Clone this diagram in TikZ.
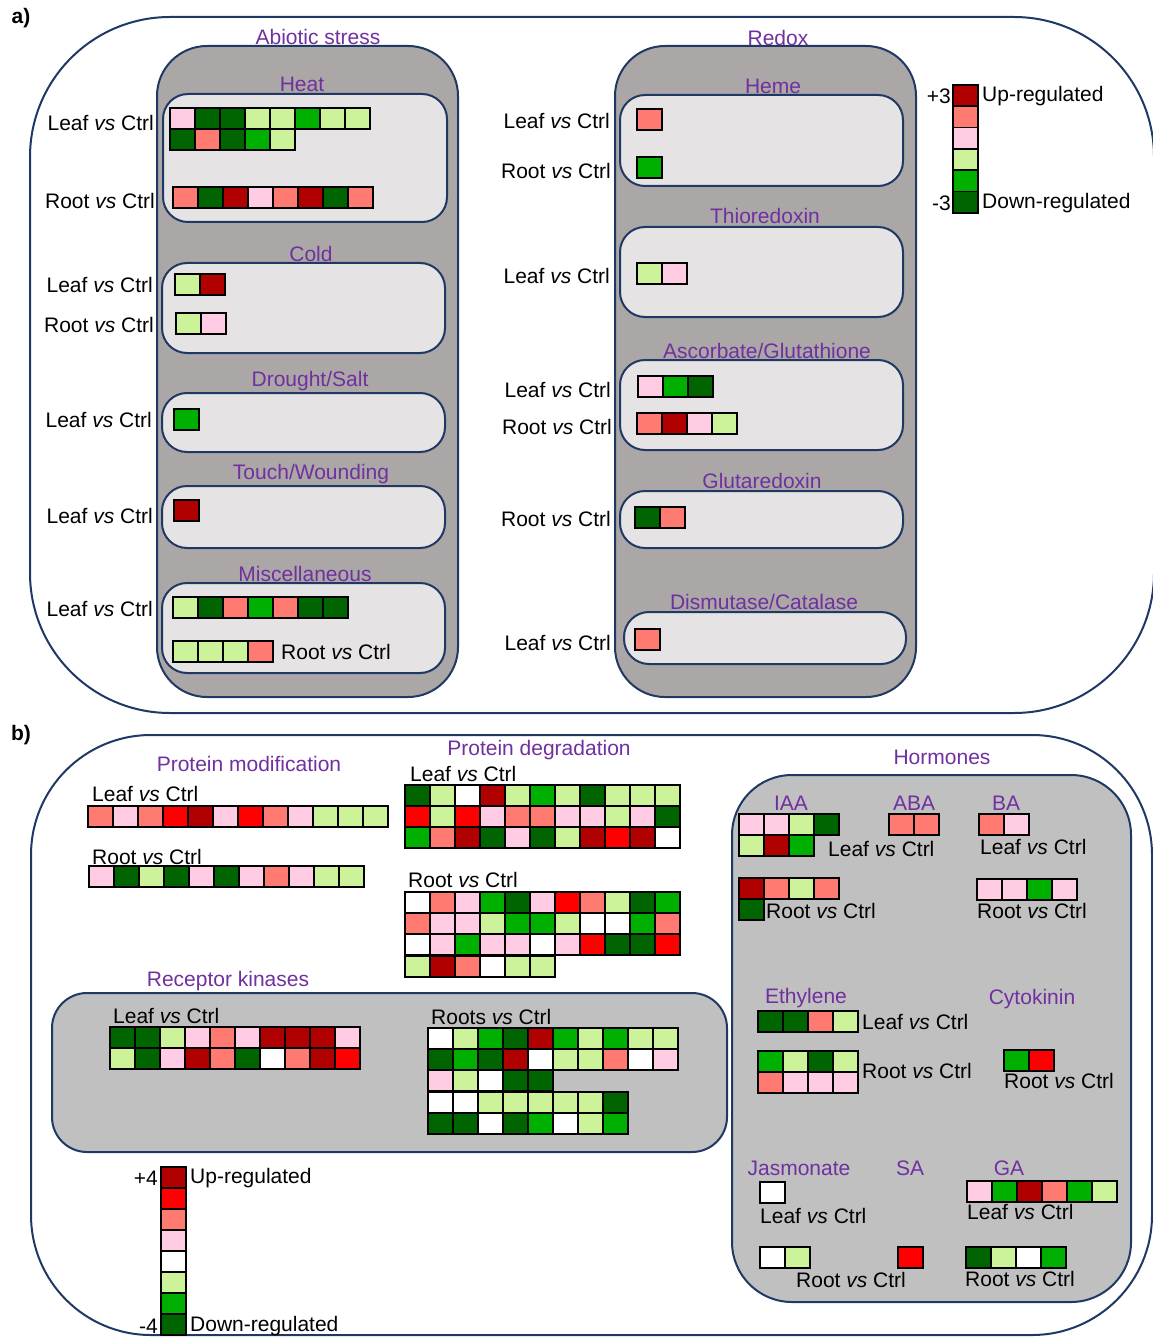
\documentclass[tikz,border=0pt]{standalone}
\usepackage{fontspec}
\setmainfont{Liberation Sans}
\usepackage{tikz}
\definecolor{dr}{HTML}{B00000}
\definecolor{rd}{HTML}{FF0000}
\definecolor{sa}{HTML}{FF7B72}
\definecolor{pk}{HTML}{FFCCE4}
\definecolor{wh}{HTML}{FFFFFF}
\definecolor{lg}{HTML}{CCF29A}
\definecolor{gr}{HTML}{00B000}
\definecolor{dg}{HTML}{006400}
\definecolor{navy}{HTML}{1F3864}
\definecolor{ttlpurple}{HTML}{7030A0}
\definecolor{grayA}{HTML}{ABA7A7}
\definecolor{grayB}{HTML}{C0C0C0}
\definecolor{paneA}{HTML}{E6E3E4}
\newcommand{\cellrow}[3]{\foreach \cl [count=\i from 0] in {#3} {\filldraw[fill=\cl, draw=black, line width=1.8pt] ({#1+\i*25}, #2) rectangle +(25,21);}}
\newcommand{\lvc}{Leaf \textit{vs} Ctrl}
\newcommand{\rvc}{Root \textit{vs} Ctrl}

\begin{document}
\begin{tikzpicture}[x=1pt, y=-1pt,
    every node/.style={inner sep=0pt, font=\fontsize{21}{25}\selectfont},
    frame/.style={draw=navy, line width=2pt},
    grpA/.style={draw=navy, line width=2pt, fill=grayA, rounded corners=50pt},
    grpB/.style={draw=navy, line width=2pt, fill=grayB},
    pane/.style={draw=navy, line width=2pt, fill=paneA, rounded corners=25pt},
    ttl/.style={text=ttlpurple},
    lbl/.style={text=black}]
    \useasboundingbox (0,0) rectangle (1152,1337);
    % ---------------- a) ----------------
    \draw[frame, rounded corners=140pt] (30,17) rectangle (1154,713);
    \node[font=\fontsize{21}{25}\selectfont\bfseries] (pa) at (21,18) {a)};
    % abiotic stress column
    \draw[grpA] (157,46) rectangle (458,697);
    \draw[pane] (163,94) rectangle (447,222);
    \draw[pane] (162,263) rectangle (445,353);
    \draw[pane] (162,393) rectangle (445,452);
    \draw[pane] (162,486) rectangle (445,548);
    \draw[pane] (162,583) rectangle (445,673);
    \node[ttl] (abiotic) at (318,37) {Abiotic stress};
    \node[ttl] (heat) at (302,84) {Heat};
    \node[ttl] (cold) at (311,254) {Cold};
    \node[ttl] (drought) at (310,381) {Drought/Salt};
    \node[ttl] (touch) at (311,474) {Touch/Wounding};
    \node[ttl] (misc) at (305,574) {Miscellaneous};
    \node[lbl, anchor=east] (heatleaf) at (154,123) {\lvc};
    \node[lbl, anchor=east] (heatroot) at (155,201) {\rvc};
    \node[lbl, anchor=east] (coldleaf) at (153,285) {\lvc};
    \node[lbl, anchor=east] (coldroot) at (154,325) {\rvc};
    \node[lbl, anchor=east] (droughtleaf) at (152,420) {\lvc};
    \node[lbl, anchor=east] (touchleaf) at (153,516) {\lvc};
    \node[lbl, anchor=east] (miscleaf) at (153,609) {\lvc};
    \node[lbl, anchor=west] (miscroot) at (281,652) {\rvc};
    % heat
    \cellrow{170}{108}{pk,dg,dg,lg,lg,gr,lg,lg}
    \cellrow{170}{129}{dg,sa,dg,gr,lg}
    \cellrow{173}{187}{sa,dg,dr,pk,sa,dr,dg,sa}
    % cold, drought, touch
    \cellrow{175}{274}{lg,dr}
    \cellrow{176}{313}{lg,pk}
    \cellrow{174}{409}{gr}
    \cellrow{174}{500}{dr}
    % miscellaneous
    \cellrow{173}{597}{lg,dg,sa,gr,sa,dg,dg}
    \cellrow{173}{641}{lg,lg,lg,sa}
    % redox column
    \draw[grpA] (615,46) rectangle (916,697);
    \draw[pane] (620,95) rectangle (903,186);
    \draw[pane] (620,227) rectangle (903,317);
    \draw[pane] (620,360) rectangle (903,450);
    \draw[pane] (620,491) rectangle (903,548);
    \draw[pane] (624,612) rectangle (906,664);
    \node[ttl] (redox) at (778,38) {Redox};
    \node[ttl] (heme) at (773,86) {Heme};
    \node[ttl] (thio) at (765,216) {Thioredoxin};
    \node[ttl] (ascorb) at (767,351) {Ascorbate/Glutathione};
    \node[ttl] (glutar) at (762,481) {Glutaredoxin};
    \node[ttl] (dismut) at (764,602) {Dismutase/Catalase};
    \node[lbl, anchor=east] (hemeleaf) at (610,121) {\lvc};
    \node[lbl, anchor=east] (hemeroot) at (611,171) {\rvc};
    \node[lbl, anchor=east] (thioleaf) at (610,276) {\lvc};
    \node[lbl, anchor=east] (ascleaf) at (611,390) {\lvc};
    \node[lbl, anchor=east] (ascroot) at (612,427) {\rvc};
    \node[lbl, anchor=east] (glutroot) at (611,519) {\rvc};
    \node[lbl, anchor=east] (dismleaf) at (611,643) {\lvc};
    \cellrow{637}{109}{sa}
    \cellrow{637}{157}{gr}
    \cellrow{637}{263}{lg,pk}
    \cellrow{638}{376}{pk,gr,dg}
    \cellrow{637}{413}{sa,dr,pk,lg}
    \cellrow{635}{507}{dg,sa}
    \cellrow{635}{629}{sa}
    % legend a
    \foreach \cl [count=\i from 0] in {dr,sa,pk,lg,gr,dg}
        \filldraw[fill=\cl, draw=black, line width=1.8pt] (953,{85+\i*21.3}) rectangle +(25,21.3);
    \node[lbl, anchor=east] (upA) at (951,96) {+3};
    \node[lbl, anchor=west] (upAtxt) at (982,96) {Up-regulated};
    \node[lbl, anchor=east] (dnA) at (951,203) {-3};
    \node[lbl, anchor=west] (dnAtxt) at (982,203) {Down-regulated};
    % ---------------- b) ----------------
    \draw[frame, rounded corners=120pt] (31,735) rectangle (1152,1335);
    \node[font=\fontsize{21}{25}\selectfont\bfseries] (pb) at (21,735) {b)};
    \draw[grpB, rounded corners=60pt] (732,775) rectangle (1131,1302);
    \draw[grpB, rounded corners=35pt] (52,993) rectangle (727,1152);
    % protein modification
    \node[ttl] (protmod) at (249,764) {Protein modification};
    \node[lbl, anchor=west] (pmleaf) at (92,794) {\lvc};
    \node[lbl, anchor=west] (pmroot) at (92,857) {\rvc};
    \cellrow{88}{806}{sa,pk,sa,rd,dr,pk,rd,sa,pk,lg,lg,lg}
    \cellrow{89}{866}{pk,dg,lg,dg,pk,dg,pk,sa,pk,lg,lg}
    % protein degradation
    \node[ttl] (protdeg) at (539,750) {Protein degradation};
    \node[lbl, anchor=west] (pdleaf) at (410,774) {\lvc};
    \node[lbl, anchor=west] (pdroot) at (408,880) {\rvc};
    \cellrow{405}{785}{dg,lg,wh,dr,lg,gr,lg,dg,lg,lg,lg}
    \cellrow{405}{806}{rd,lg,rd,pk,sa,sa,pk,pk,lg,pk,dg}
    \cellrow{405}{827}{gr,sa,dr,dg,pk,dg,lg,dr,rd,dr,wh}
    \cellrow{405}{892}{wh,sa,pk,gr,dg,pk,rd,sa,lg,dg,gr}
    \cellrow{405}{913}{sa,pk,pk,lg,gr,gr,lg,wh,wh,gr,sa}
    \cellrow{405}{934}{wh,pk,gr,pk,pk,wh,pk,rd,dg,dg,rd}
    \cellrow{405}{956}{lg,dr,sa,wh,lg,lg}
    % receptor kinases
    \node[ttl] (recept) at (228,981) {Receptor kinases};
    \node[lbl, anchor=west] (rkleaf) at (113,1016) {\lvc};
    \node[lbl, anchor=west] (rkroot) at (431,1017) {Roots \textit{vs} Ctrl};
    \cellrow{110}{1027}{dg,dg,lg,pk,sa,pk,dr,dr,dr,pk}
    \cellrow{110}{1048}{lg,dg,pk,dr,sa,dg,wh,sa,dr,rd}
    \cellrow{428}{1028}{wh,lg,gr,dg,dr,gr,lg,gr,lg,lg}
    \cellrow{428}{1049}{dg,gr,dg,dr,wh,lg,lg,sa,wh,pk}
    \cellrow{428}{1070}{pk,lg,wh,dg,dg}
    \cellrow{428}{1092}{wh,wh,lg,lg,lg,lg,lg,dg}
    \cellrow{428}{1113}{dg,dg,wh,dg,gr,wh,lg,gr}
    % legend b
    \foreach \cl [count=\i from 0] in {dr,rd,sa,pk,wh,lg,gr,dg}
        \filldraw[fill=\cl, draw=black, line width=1.8pt] (161,{1167+\i*21}) rectangle +(25,21);
    \node[lbl, anchor=east] (upB) at (158,1178) {+4};
    \node[lbl, anchor=west] (upBtxt) at (190,1178) {Up-regulated};
    \node[lbl, anchor=east] (dnB) at (158,1326) {-4};
    \node[lbl, anchor=west] (dnBtxt) at (190,1326) {Down-regulated};
    % hormones
    \node[ttl] (hormones) at (942,757) {Hormones};
    \node[ttl] (iaa) at (791,803) {IAA};
    \node[ttl] (aba) at (914,803) {ABA};
    \node[ttl] (ba) at (1006,803) {BA};
    \node[lbl, anchor=west] (iaaleaf) at (828,849) {\lvc};
    \node[lbl, anchor=west] (iaaroot) at (766,911) {\rvc};
    \node[lbl, anchor=west] (baleaf) at (980,847) {\lvc};
    \node[lbl, anchor=west] (baroot) at (977,911) {\rvc};
    \cellrow{739}{814}{pk,pk,lg,dg}
    \cellrow{739}{835}{lg,dr,gr}
    \cellrow{739}{878}{dr,sa,lg,sa}
    \cellrow{739}{899}{dg}
    \cellrow{889}{814}{sa,sa}
    \cellrow{979}{814}{sa,pk}
    \cellrow{977}{879}{pk,pk,gr,pk}
    \node[ttl] (ethyl) at (806,998) {Ethylene};
    \node[ttl] (cytok) at (1032,999) {Cytokinin};
    \node[lbl, anchor=west] (ethleaf) at (862,1022) {\lvc};
    \node[lbl, anchor=west] (ethroot) at (862,1071) {\rvc};
    \node[lbl, anchor=west] (cytroot) at (1004,1081) {\rvc};
    \cellrow{758}{1011}{dg,dg,sa,lg}
    \cellrow{758}{1051}{gr,lg,dg,lg}
    \cellrow{758}{1072}{sa,pk,pk,pk}
    \cellrow{1004}{1050}{gr,rd}
    \node[ttl] (jasmon) at (799,1168) {Jasmonate};
    \node[ttl] (salic) at (910,1168) {SA};
    \node[ttl] (gibb) at (1009,1168) {GA};
    \node[lbl, anchor=west] (jasleaf) at (760,1216) {\lvc};
    \node[lbl] (jasroot) at (851,1280) {\rvc};
    \node[lbl, anchor=west] (galeaf) at (967,1212) {\lvc};
    \node[lbl, anchor=west] (garoot) at (965,1279) {\rvc};
    \cellrow{760}{1182}{wh}
    \cellrow{760}{1247}{wh,lg}
    \cellrow{898}{1247}{rd}
    \cellrow{967}{1181}{pk,gr,dr,sa,gr,lg}
    \cellrow{966}{1247}{dg,lg,wh,gr}
\end{tikzpicture}
\end{document}
